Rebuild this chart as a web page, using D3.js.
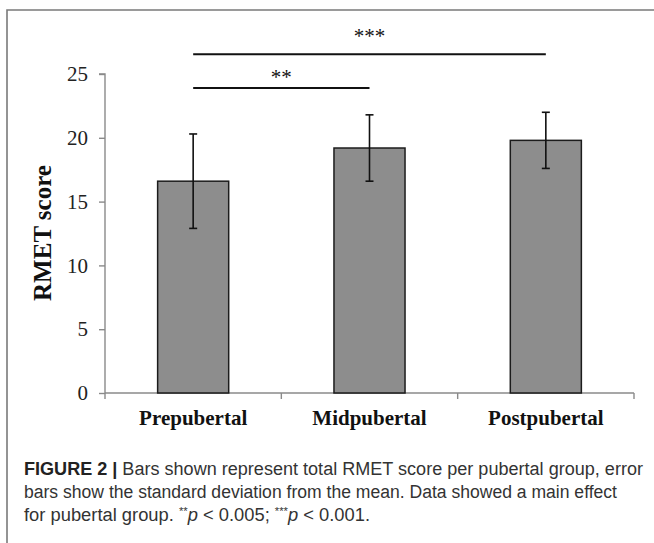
<!DOCTYPE html>
<html>
<head>
<meta charset="utf-8">
<script src="https://cdn.jsdelivr.net/npm/d3@7"></script>
<style>
  html, body { margin: 0; padding: 0; background: #fff; }
  svg { display: block; }
</style>
</head>
<body>
<svg id="chart" width="654" height="543"></svg>
<script>
// ---- data ----
const categories = ["Prepubertal", "Midpubertal", "Postpubertal"];
const means = [16.6, 19.2, 19.8];
const sds = [3.7, 2.6, 2.2];
const yTicks = [0, 5, 10, 15, 20, 25];
const comparisons = [
  { from: "Prepubertal", to: "Midpubertal", label: "**" },
  { from: "Prepubertal", to: "Postpubertal", label: "***" }
];
const captionLines = [
  [{ t: "FIGURE 2 | ", b: true }, { t: "Bars shown represent total RMET score per pubertal group, error" }],
  [{ t: "bars show the standard deviation from the mean. Data showed a main effect" }],
  [{ t: "for pubertal group. " }, { t: "**", sup: true }, { t: "p", i: true }, { t: " < 0.005; " }, { t: "***", sup: true }, { t: "p", i: true }, { t: " < 0.001." }]
];

// ---- drawing ----
const svg = d3.select("#chart");
const serif = "'Liberation Serif', 'Times New Roman', serif";
const sans = "'Liberation Sans', Arial, Helvetica, sans-serif";

// frame
svg.append("path")
  .attr("d", "M7,543 L7,10 L654,10")
  .attr("fill", "none").attr("stroke", "#7a7a7a").attr("stroke-width", 1.6);

const x = d3.scaleBand().domain(categories).range([105, 634]).padding(0);
const y = d3.scaleLinear().domain([0, 25]).range([393, 74]);
const barW = x.bandwidth() * 0.403;

// y axis
const yAxis = svg.append("g").attr("transform", "translate(105,0)")
  .call(d3.axisLeft(y).tickValues(yTicks).tickSize(6).tickPadding(11).tickFormat(d3.format("d")));
yAxis.select(".domain").attr("stroke", "#8a8a8a").attr("stroke-width", 1.4)
  .attr("d", `M-6,${y(25)}H0V${y(0)}`);
yAxis.selectAll(".tick line").attr("stroke", "#8a8a8a").attr("stroke-width", 1.4);
yAxis.selectAll(".tick text").attr("font-family", serif).attr("font-size", 21).attr("fill", "#222");

// x axis
const xAxis = svg.append("g").attr("transform", `translate(0,${y(0)})`)
  .call(d3.axisBottom(x).tickSize(0).tickPadding(17));
xAxis.select(".domain").attr("stroke", "#8a8a8a").attr("stroke-width", 1.4)
  .attr("d", `M105,0H634`);
xAxis.selectAll(".tick text").attr("font-family", serif).attr("font-size", 21)
  .attr("font-weight", "bold").attr("fill", "#111").attr("dy", "0.71em");
// boundary ticks
const bounds = categories.map(c => x(c)).concat([x(categories[categories.length - 1]) + x.bandwidth()]);
xAxis.selectAll(".bt").data(bounds).enter().append("line")
  .attr("x1", d => d).attr("x2", d => d).attr("y1", 0).attr("y2", 6)
  .attr("stroke", "#8a8a8a").attr("stroke-width", 1.4);

// y label
svg.append("text")
  .attr("transform", "translate(51,233) rotate(-90)")
  .attr("text-anchor", "middle")
  .attr("font-family", serif).attr("font-size", 25).attr("font-weight", "bold").attr("fill", "#111")
  .text("RMET score");

// bars
const cx = c => x(c) + x.bandwidth() / 2;
svg.selectAll(".bar").data(categories).enter().append("rect")
  .attr("x", c => cx(c) - barW / 2)
  .attr("y", (c, i) => y(means[i]))
  .attr("width", barW)
  .attr("height", (c, i) => y(0) - y(means[i]))
  .attr("fill", "#8d8d8d").attr("stroke", "#1c1c1c").attr("stroke-width", 1.5);

// error bars
const eb = svg.append("g").attr("stroke", "#111").attr("stroke-width", 1.6);
categories.forEach((c, i) => {
  const hi = y(means[i] + sds[i]), lo = y(means[i] - sds[i]);
  eb.append("line").attr("x1", cx(c)).attr("x2", cx(c)).attr("y1", hi).attr("y2", lo);
  eb.append("line").attr("x1", cx(c) - 4).attr("x2", cx(c) + 4).attr("y1", hi).attr("y2", hi);
  eb.append("line").attr("x1", cx(c) - 4).attr("x2", cx(c) + 4).attr("y1", lo).attr("y2", lo);
});

// significance lines
const sigLevels = [23.9, 26.55];
const sigGap = [4, 11];
comparisons.forEach((cmp, i) => {
  const yy = y(sigLevels[i]);
  svg.append("line").attr("x1", cx(cmp.from)).attr("x2", cx(cmp.to))
    .attr("y1", yy).attr("y2", yy).attr("stroke", "#111").attr("stroke-width", 2);
  svg.append("text")
    .attr("x", (cx(cmp.from) + cx(cmp.to)) / 2).attr("y", yy - sigGap[i])
    .attr("text-anchor", "middle").attr("font-family", serif).attr("font-size", 21).attr("fill", "#111")
    .text(cmp.label);
});

// caption
const capBase = [475, 498, 521];
const capWidths = [619, 593, 346];
captionLines.forEach((parts, i) => {
  const t = svg.append("text").attr("x", 24).attr("y", capBase[i])
    .attr("font-family", sans).attr("font-size", 18).attr("fill", "#333");
  parts.forEach(p => {
    const ts = t.append("tspan").text(p.t);
    if (p.b) ts.attr("font-weight", "bold").attr("fill", "#222");
    if (p.i) ts.attr("font-style", "italic");
    if (p.sup) ts.attr("font-size", 11).attr("baseline-shift", "6");
  });
  if (capWidths[i]) t.attr("textLength", capWidths[i]).attr("lengthAdjust", "spacingAndGlyphs");
});
</script>
</body>
</html>
